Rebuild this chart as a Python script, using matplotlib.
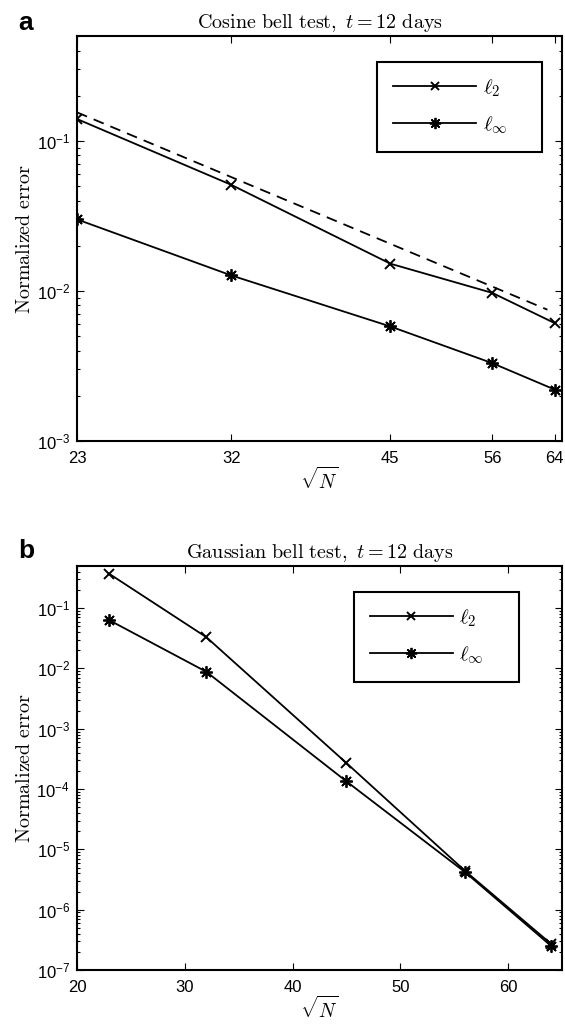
import matplotlib
matplotlib.use('Agg')
import matplotlib.pyplot as plt
from matplotlib.font_manager import FontProperties
from matplotlib.ticker import FixedLocator, NullLocator, FixedFormatter, LogLocator, LogFormatterSciNotation

plt.rcParams['font.family'] = ['Liberation Sans', 'DejaVu Sans']
plt.rcParams['mathtext.fontset'] = 'custom'
plt.rcParams['mathtext.rm'] = 'Liberation Sans'
plt.rcParams['axes.linewidth'] = 1.5

# Data: grid resolution sqrt(N) and normalized errors
n_vals = [23, 32, 45, 56, 64]
cosine_l2 = [0.14, 0.051, 0.0152, 0.0097, 0.0061]
cosine_linf = [0.030, 0.0127, 0.0058, 0.0033, 0.0022]
ref_n = [23, 63]
ref_err = [0.155, 0.0075]

gauss_l2 = [0.37, 0.033, 2.7e-4, 4.4e-6, 2.7e-7]
gauss_linf = [0.063, 0.0088, 1.34e-4, 4.2e-6, 2.5e-7]

top_xticks = [23, 32, 45, 56, 64]
bottom_xticks = [20, 30, 40, 50, 60]

LINE = dict(color='black', lw=1.3)
STAR = (8, 2, 0)

cm_font = FontProperties(size=15, math_fontfamily='cm')

fig = plt.figure(figsize=(5.65, 10.27), dpi=100)
ax1 = fig.add_axes([0.1363, 0.5706, 0.8584, 0.3943])
ax2 = fig.add_axes([0.1363, 0.0555, 0.8584, 0.3934])


def style_axes(ax):
    ax.tick_params(which='both', direction='in', top=True, right=True,
                   labelsize=12, width=0.8)
    ax.tick_params(which='major', length=5)
    ax.tick_params(which='minor', length=2.5)
    ax.tick_params(axis='x', pad=7)
    ax.tick_params(axis='y', pad=5)
    ax.yaxis.set_major_locator(LogLocator(base=10, numticks=20))
    ax.yaxis.set_minor_locator(LogLocator(base=10, subs=range(2, 10), numticks=20))
    ax.yaxis.set_major_formatter(LogFormatterSciNotation())
    ax.xaxis.set_minor_locator(NullLocator())


def add_legend(ax, anchor):
    leg = ax.legend(loc='upper right', bbox_to_anchor=anchor, prop=cm_font,
                    handlelength=4.0, labelspacing=0.75, borderpad=0.75,
                    fancybox=False, edgecolor='black', framealpha=1,
                    handletextpad=0.3, borderaxespad=0, markerscale=0.9)
    leg.get_frame().set_linewidth(1.5)
    return leg


# Panel a: cosine bell
ax1.set_xscale('log')
ax1.set_yscale('log')
ax1.plot(n_vals, cosine_l2, marker='x', ms=7, mew=1.4, label=r'$\ell_2$' + '    ', **LINE)
ax1.plot(n_vals, cosine_linf, marker=STAR, ms=9, mew=1.3, label=r'$\ell_\infty$' + '    ', **LINE)
ax1.plot(ref_n, ref_err, ls=(0, (6, 4)), color='black', lw=1.3)
ax1.set_xlim(23, 65)
ax1.set_ylim(1e-3, 0.5)
style_axes(ax1)
ax1.xaxis.set_major_locator(FixedLocator(top_xticks))
ax1.xaxis.set_major_formatter(FixedFormatter([str(t) for t in top_xticks]))
ax1.set_title(r'$\mathrm{Cosine\ bell\ test,}\ t = 12\ \mathrm{days}$',
              fontsize=14.5, math_fontfamily='cm', pad=6)
ax1.set_ylabel(r'$\mathrm{Normalized\ error}$', fontsize=14.5, math_fontfamily='cm', labelpad=2)
ax1.set_xlabel(r'$\sqrt{N}$', fontsize=14, math_fontfamily='cm', labelpad=1)
add_legend(ax1, (0.959, 0.936))

# Panel b: Gaussian bell
ax2.set_yscale('log')
ax2.plot(n_vals, gauss_l2, marker='x', ms=7, mew=1.4, label=r'$\ell_2$' + '    ', **LINE)
ax2.plot(n_vals, gauss_linf, marker=STAR, ms=9, mew=1.3, label=r'$\ell_\infty$' + '    ', **LINE)
ax2.set_xlim(20, 65)
ax2.set_ylim(1e-7, 0.5)
style_axes(ax2)
ax2.xaxis.set_major_locator(FixedLocator(bottom_xticks))
ax2.set_title(r'$\mathrm{Gaussian\ bell\ test,}\ t = 12\ \mathrm{days}$',
              fontsize=14.5, math_fontfamily='cm', pad=6)
ax2.set_ylabel(r'$\mathrm{Normalized\ error}$', fontsize=14.5, math_fontfamily='cm', labelpad=2)
ax2.set_xlabel(r'$\sqrt{N}$', fontsize=14, math_fontfamily='cm', labelpad=1)
add_legend(ax2, (0.911, 0.936))

fig.text(0.032, 1 - 30 / 1027, 'a', fontsize=19, fontweight='bold', va='baseline')
fig.text(0.032, 1 - 558 / 1027, 'b', fontsize=19, fontweight='bold', va='baseline')

fig.savefig('out.png', dpi=100, facecolor='white')
